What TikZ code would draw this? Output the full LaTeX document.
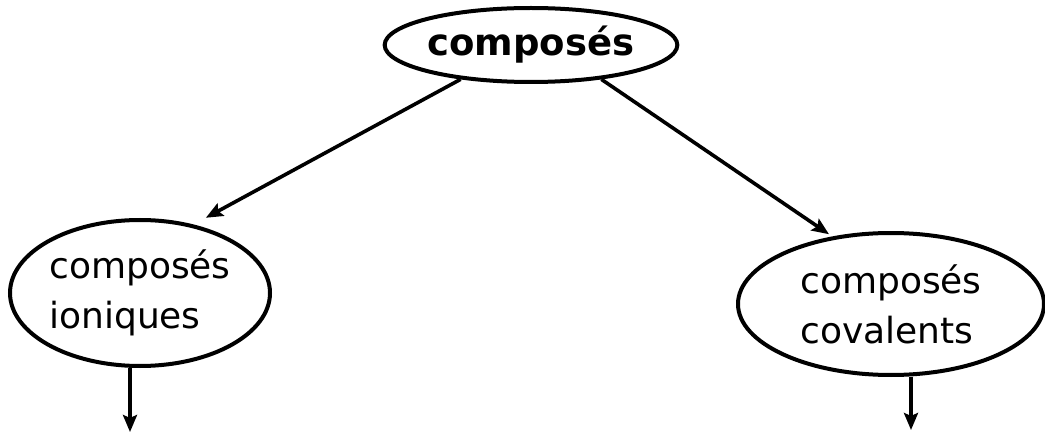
\documentclass[tikz,border=0pt]{standalone}
\usepackage{fontspec}
\setmainfont{DejaVu Sans}
\usetikzlibrary{shapes.geometric,arrows.meta}
\begin{document}
\begin{tikzpicture}[x=1pt,y=-1pt,
  oval/.style={ellipse,draw,line width=4pt,inner sep=0pt,align=left,
    font=\fontsize{36}{50}\selectfont},
  conn/.style={line width=3.6pt,-{Stealth[length=17pt,width=14pt,inset=3pt]}}]
\useasboundingbox (0,0) rectangle (1045,433);
\node[oval,minimum width=288pt,minimum height=74pt,font=\fontsize{37}{44}\selectfont\bfseries] (top) at (531,45) {composés};
\node[oval,minimum width=260pt,minimum height=146pt] (left) at (140,293) {composés\\ioniques};
\node[oval,minimum width=306pt,minimum height=142pt] (right) at (891,304) {composés\\covalents};
\coordinate (lend) at (130,432);
\coordinate (rend) at (911,430);
\draw[conn,shorten >=14pt] (top.206) -- (left.52);
\draw[conn,shorten >=4pt] (top.334) -- (right.131);
\draw[conn] (left.south -| lend) -- (lend);
\draw[conn] (right.south -| rend) -- (rend);
\end{tikzpicture}
\end{document}
